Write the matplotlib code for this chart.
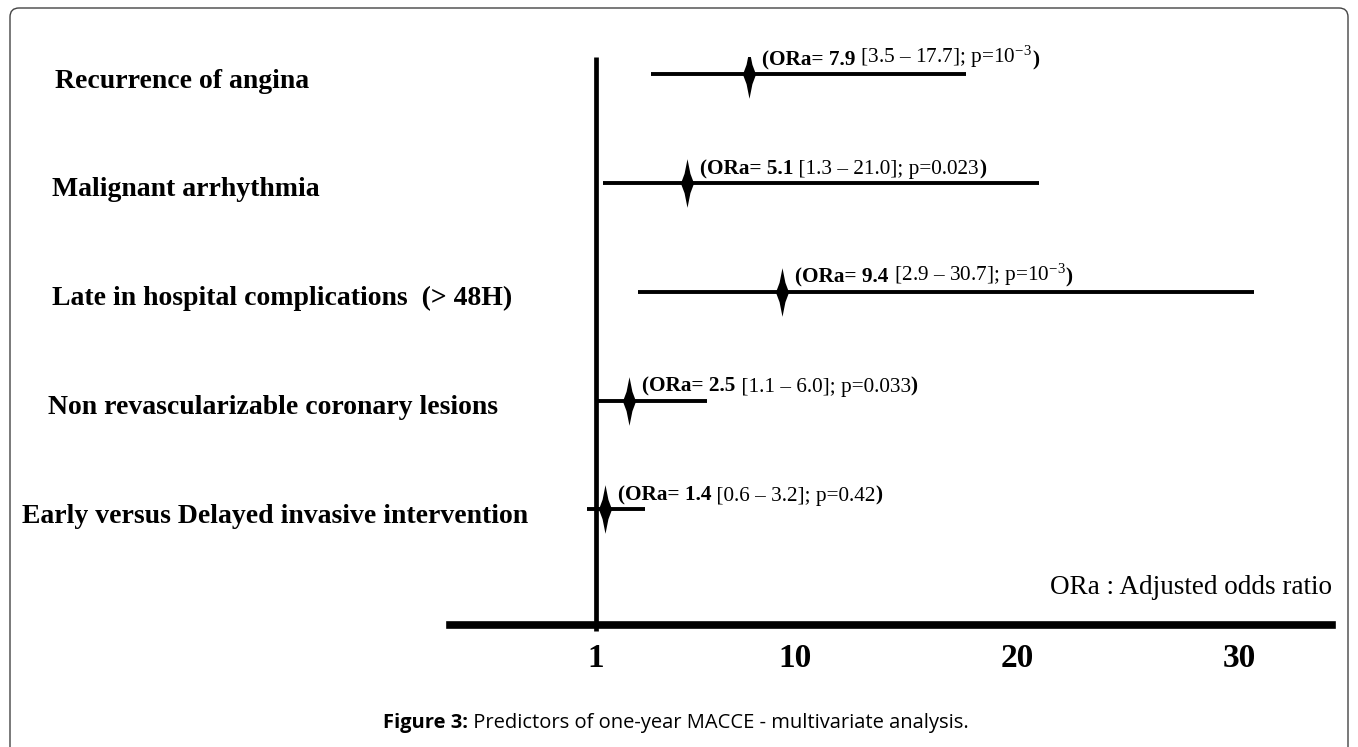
import matplotlib
matplotlib.use("Agg")
import matplotlib.pyplot as plt
import matplotlib.transforms as mtransforms
from matplotlib.patches import FancyBboxPatch

plt.rcParams['mathtext.fontset'] = 'custom'
plt.rcParams['mathtext.rm'] = 'Liberation Serif'
plt.rcParams['mathtext.it'] = 'Liberation Serif:italic'
plt.rcParams['mathtext.bf'] = 'Liberation Serif:bold'
plt.rcParams['mathtext.default'] = 'regular'

# ---------------- data ----------------
factors = [
    "Recurrence of angina",
    "Malignant arrhythmia",
    "Late in hospital complications  (> 48H)",
    "Non revascularizable coronary lesions",
    "Early versus Delayed invasive intervention",
]
or_values = [7.9, 5.1, 9.4, 2.5, 1.4]
ci_low = [3.5, 1.3, 2.9, 1.1, 0.6]
ci_high = [17.7, 21.0, 30.7, 6.0, 3.2]
p_values = ["10$^{-3}$", "0.023", "10$^{-3}$", "0.033", "0.42"]
x_ticks = [1, 10, 20, 30]
x_tick_labels = ["1", "10", "20", "30"]
caption_bold = "Figure 3:"
caption_text = " Predictors of one-year MACCE - multivariate analysis."
note_text = "ORa : Adjusted odds ratio"

# ---------------- layout ----------------
W, H = 1358, 747
SERIF = 'Liberation Serif'
fig = plt.figure(figsize=(W / 100, H / 100), dpi=100)

ax = fig.add_axes([450 / W, 1 - 625 / H, 882 / W, 568 / H])
ax.set_xlim(-5.58, 34.20)
ax.set_ylim(-0.0625, 5.158)

ypos = list(range(len(factors), 0, -1))

# reference line at OR = 1
ax.axvline(1, ymin=-0.01, ymax=1, color='black', lw=3.4, clip_on=False,
           solid_capstyle='butt', zorder=2)

# confidence intervals
ax.hlines(ypos, ci_low, ci_high, color='black', lw=2.8, zorder=3)

# diamond markers
diamond = [(0, 1), (0.12, 0.4), (0.27, 0), (0.12, -0.4), (0, -1),
           (-0.12, -0.4), (-0.27, 0), (-0.12, 0.4), (0, 1)]
ax.plot(or_values, ypos, linestyle='none', marker=diamond, markersize=35,
        color='black', markeredgewidth=0, zorder=4)

# annotations: bold "(ORa= x" + regular " [lo – hi]; p=.." + bold ")"
for orv, lo, hi, p, y in zip(or_values, ci_low, ci_high, p_values, ypos):
    t1 = ax.annotate(f"(ORa= {orv:.1f}", xy=(orv, y), xytext=(9.5, 10),
                     textcoords='offset points', ha='left', va='center',
                     fontsize=15.3, fontweight='bold', family=SERIF)
    t2 = ax.annotate(f" [{lo:.1f} \u2013 {hi:.1f}]; p={p}", xy=(1, 0), xycoords=t1,
                     ha='left', va='bottom', fontsize=15.3, family=SERIF)
    ax.annotate(")", xy=(1, 0), xycoords=t2, ha='left', va='bottom',
                fontsize=15.3, fontweight='bold', family=SERIF)

# factor labels on the left
label_x = [55, 52, 52, 48, 22]
lab_tr = mtransforms.blended_transform_factory(fig.transFigure, ax.transData) + \
    mtransforms.ScaledTranslation(0, -0.07, fig.dpi_scale_trans)
for name, lx, y in zip(factors, label_x, ypos):
    fig.text(lx / W, y, name, transform=lab_tr, ha='left', va='center',
             fontsize=20, fontweight='bold', family=SERIF)

# axis styling
for s in ['top', 'right', 'left']:
    ax.spines[s].set_visible(False)
ax.spines['bottom'].set_linewidth(5.5)
ax.spines['bottom'].set_color('black')
ax.set_yticks([])
ax.set_xticks(x_ticks, x_tick_labels, fontsize=24, fontweight='bold', family=SERIF)
ax.tick_params(axis='x', length=0, pad=13)
ax.patch.set_alpha(0)

ax.text(1.0, (625 - 588) / 568, note_text, transform=ax.transAxes, ha='right',
        va='center', fontsize=19.5, family=SERIF)

# outer rounded frame
frame = FancyBboxPatch((10, -20), 1338, 759, boxstyle="round,pad=0,rounding_size=9",
                       transform=mtransforms.IdentityTransform(), fill=False,
                       edgecolor='#444444', lw=1.0)
fig.patches.append(frame)

# caption
c1 = fig.text(383 / W, 1 - 723 / H, caption_bold, ha='left', va='center',
              fontsize=14.5, fontweight='bold', family='Open Sans')
ax.annotate(caption_text, xy=(1, 0), xycoords=c1, ha='left', va='bottom',
            fontsize=14.5, family='Open Sans', annotation_clip=False)

fig.savefig('out.png', dpi=100)
